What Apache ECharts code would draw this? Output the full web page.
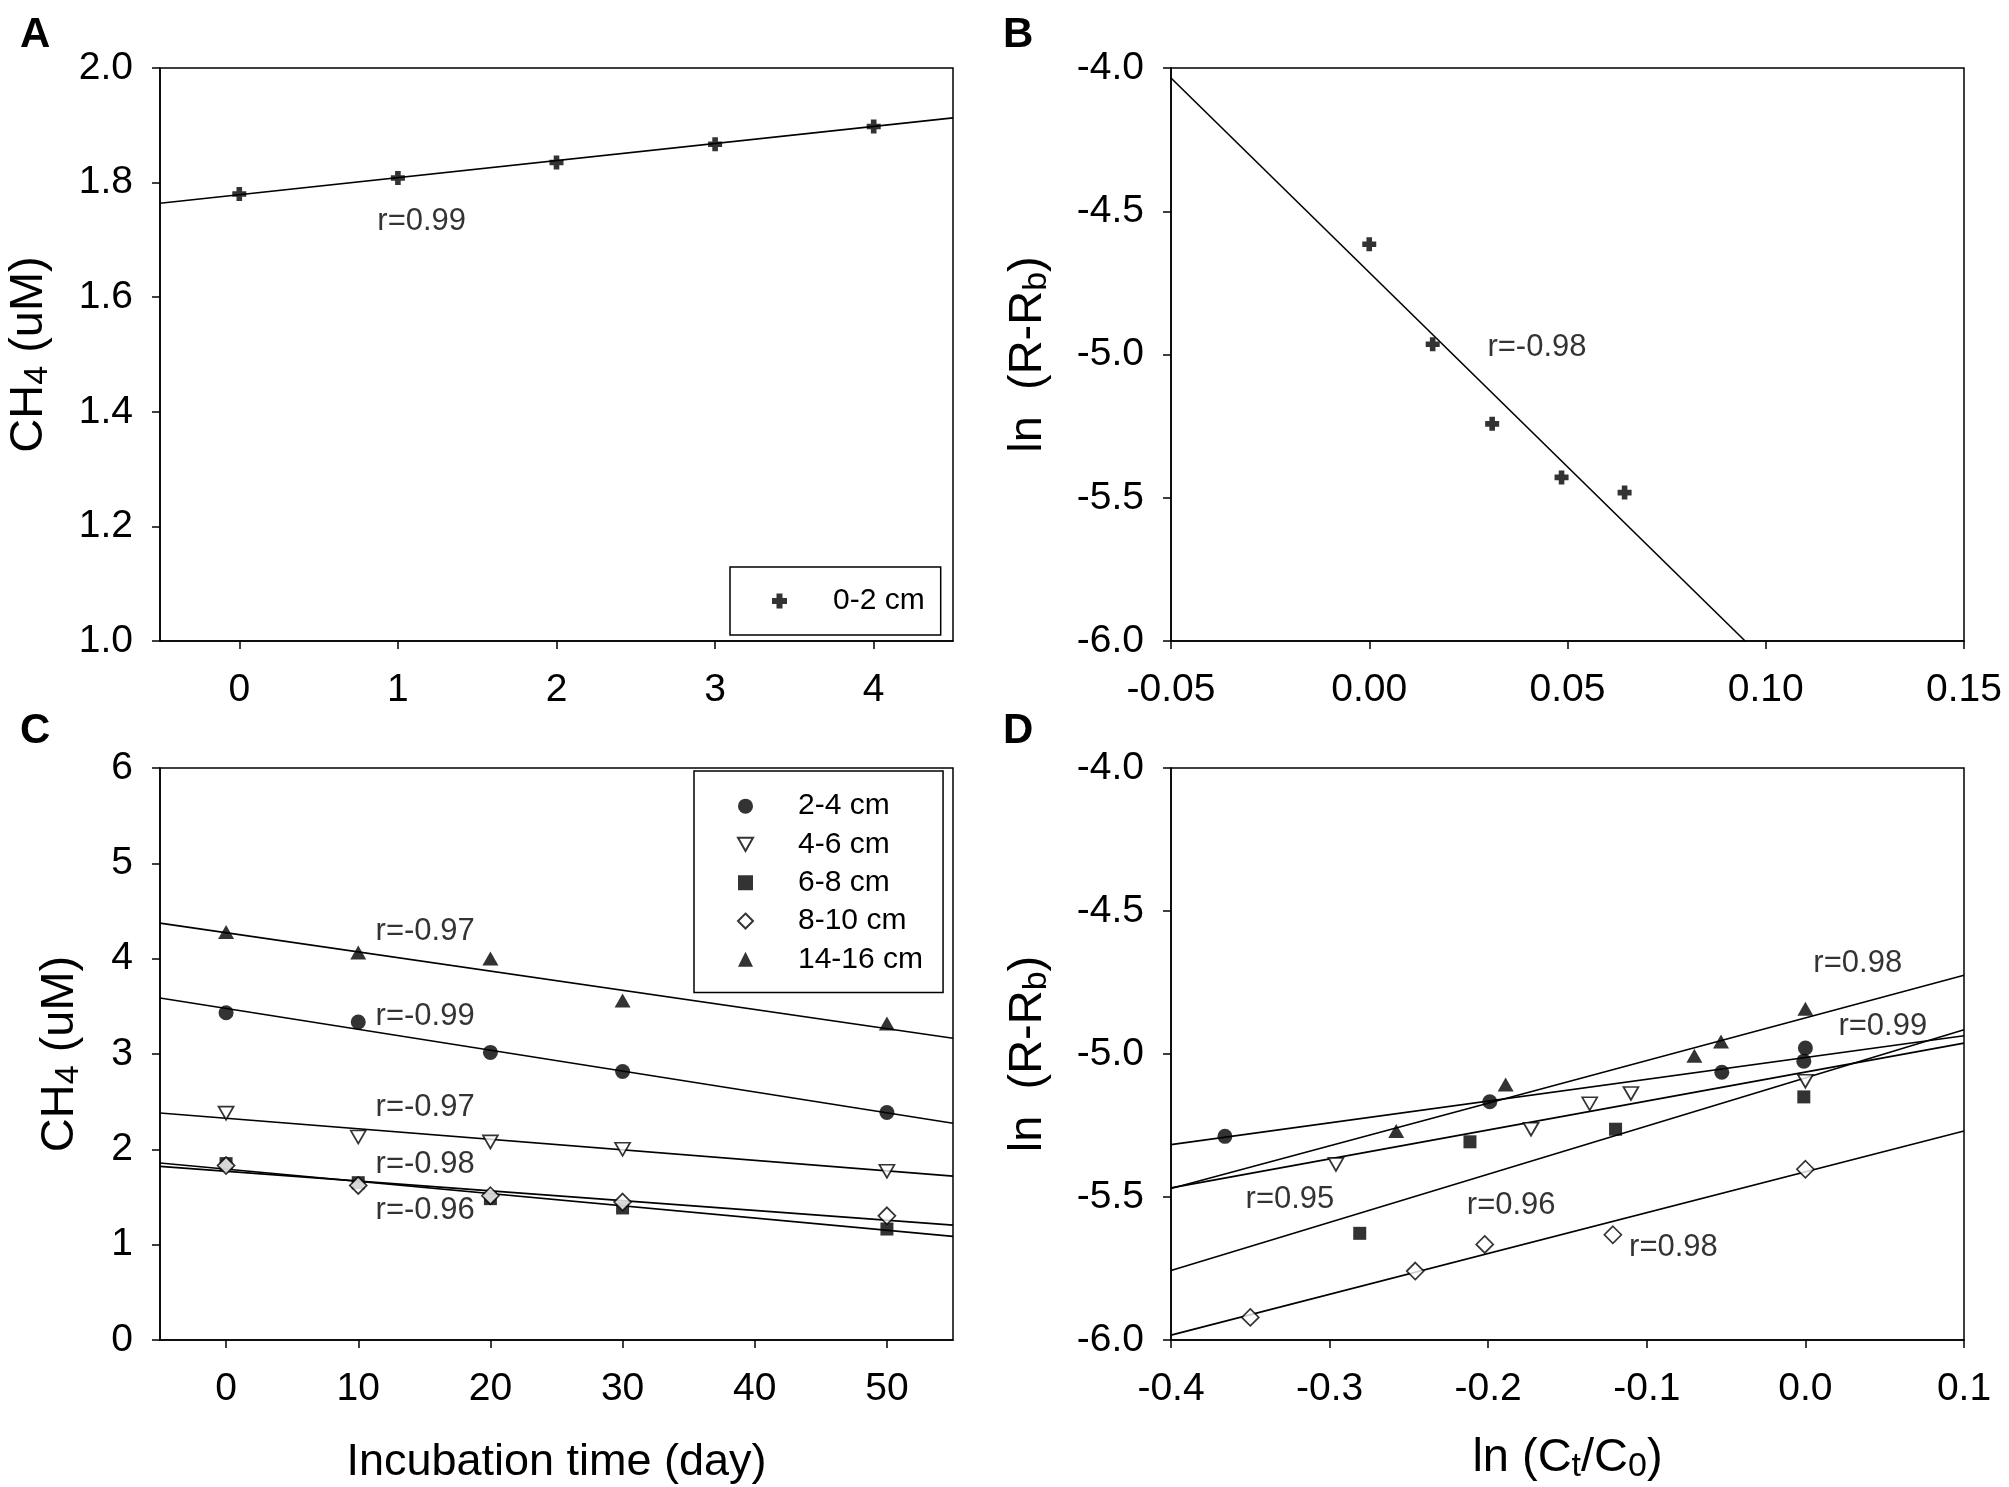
<!DOCTYPE html>
<html>
<head>
<meta charset="utf-8">
<title>CH4 incubation</title>
<script src="https://cdn.jsdelivr.net/npm/echarts@6/dist/echarts.min.js"></script>
<style>
html, body { margin: 0; padding: 0; background: #fff; }
#chart { width: 2009px; height: 1487px; }
</style>
</head>
<body>
<div id="chart"></div>
<script>
var FONT = '"Liberation Sans", Arial, sans-serif';

// A: 0-2 cm, CH4 vs incubation time
var dayA = [0, 1, 2, 3, 4];
var ch4A = [1.780, 1.808, 1.835, 1.867, 1.898];
var fitA = [[-0.5, 1.764], [4.5, 1.913]];
var ticksA = [0, 1, 2, 3, 4];
var noteA = [[1.15, 1.733, 'r=0.99']];

// B: ln(R-Rb) vs ln(Ct/C0), 0-2 cm
var lnCB = [0.000, 0.016, 0.031, 0.0485, 0.0644];
var lnRB = [-4.615, -4.964, -5.242, -5.429, -5.482];
var fitB = [[-0.05, -4.035], [0.0948, -6.0]];
var noteB = [[0.0423, -4.977, 'r=-0.98']];

// C: CH4 vs incubation time, deeper layers
var layers = ['2-4 cm', '4-6 cm', '6-8 cm', '8-10 cm', '14-16 cm'];
var dayC = [0, 10, 20, 30, 50];
var ch4C_24 = [3.433, 3.336, 3.017, 2.817, 2.386];
var ch4C_46 = [2.38, 2.129, 2.078, 2.001, 1.770];
var ch4C_68 = [1.85, 1.65, 1.483, 1.385, 1.164];
var ch4C_810 = [1.83, 1.621, 1.513, 1.447, 1.303];
var ch4C_1416 = [4.280, 4.065, 4.003, 3.562, 3.320];
var fitC_24 = [[-5, 3.587], [55, 2.273]];
var fitC_46 = [[-5, 2.381], [55, 1.719]];
var fitC_68 = [[-5, 1.857], [55, 1.087]];
var fitC_810 = [[-5, 1.821], [55, 1.205]];
var fitC_1416 = [[-5, 4.373], [55, 3.166]];
var ticksC = [0, 10, 20, 30, 40, 50];
var noteC = [[15.06, 4.285, 'r=-0.97'], [15.06, 3.397, 'r=-0.99'], [15.06, 2.437, 'r=-0.97'],
             [15.06, 1.842, 'r=-0.98'], [15.06, 1.359, 'r=-0.96']];

// D: ln(R-Rb) vs ln(Ct/C0), deeper layers
var xD_24 = [-0.366, -0.199, -0.0527, 0.0, -0.001];
var yD_24 = [-5.288, -5.167, -5.064, -4.979, -5.025];
var xD_46 = [-0.296, -0.173, -0.136, -0.110, 0.0];
var yD_46 = [-5.386, -5.263, -5.174, -5.138, -5.095];
var xD_68 = [-0.281, -0.2115, -0.1197, -0.001];
var yD_68 = [-5.627, -5.307, -5.263, -5.150];
var xD_810 = [-0.350, -0.246, -0.2022, -0.1214, 0.0];
var yD_810 = [-5.921, -5.759, -5.666, -5.632, -5.403];
var xD_1416 = [-0.258, -0.189, -0.070, -0.0532, 0.0];
var yD_1416 = [-5.269, -5.107, -5.006, -4.956, -4.842];
var fitD_24 = [[-0.4, -5.317], [0.1, -4.936]];
var fitD_46 = [[-0.4, -5.468], [0.1, -4.962]];
var fitD_68 = [[-0.4, -5.757], [0.1, -4.915]];
var fitD_810 = [[-0.4, -5.983], [0.1, -5.269]];
var fitD_1416 = [[-0.4, -5.470], [0.1, -4.725]];
var noteD = [[0.033, -4.683, 'r=0.98'], [0.0488, -4.905, 'r=0.99'], [-0.325, -5.509, 'r=0.95'],
             [-0.1855, -5.531, 'r=0.96'], [-0.0832, -5.675, 'r=0.98']];

var PLUS = 'path://M30,0H70V30H100V70H70V100H30V70H0V30H30Z';
var DOWN = 'path://M0,0L100,0L50,88Z';

function pts(xs, ys) {
    return xs.map(function (x, i) { return [x, ys[i]]; });
}
function fmt(d) {
    return function (v) { return (Math.abs(v) < 1e-9 ? 0 : v).toFixed(d); };
}

// marker series
function marks(name, idx, xs, ys, symbol, size, open) {
    return {
        name: name, type: 'scatter', xAxisIndex: idx, yAxisIndex: idx,
        data: pts(xs, ys), symbol: symbol, symbolSize: size, z: 5,
        itemStyle: open ? { color: '#fff', borderColor: '#000', borderWidth: 1.7 } : { color: '#000', borderWidth: 0 },
        emphasis: { disabled: true }
    };
}
// regression line
function fit(idx, data) {
    return {
        type: 'line', xAxisIndex: idx, yAxisIndex: idx, data: data, symbol: 'none',
        lineStyle: { color: '#000', width: 1.6 }, z: 3, silent: true
    };
}
// r= labels
function notes(idx, list) {
    return {
        type: 'scatter', xAxisIndex: idx, yAxisIndex: idx, symbolSize: 0, z: 6, silent: true,
        data: list.map(function (a) { return { value: [a[0], a[1]], name: a[2] }; }),
        label: { show: true, position: 'inside', formatter: '{b}', fontSize: 31, color: '#000', fontFamily: FONT }
    };
}

var nameRich = {
    n: { fontSize: 47, fontFamily: FONT, color: '#000' },
    s: { fontSize: 34, fontFamily: FONT, color: '#000', padding: [18, 0, 0, 0] }
};

function xAxis(idx, min, max, opts) {
    var a = {
        type: 'value', gridIndex: idx, min: min, max: max,
        axisLine: { onZero: false, lineStyle: { color: '#000', width: 1.5 } },
        axisTick: { inside: false, length: 8, lineStyle: { color: '#000', width: 1.5 } },
        axisLabel: { fontSize: 39, color: '#000', fontFamily: FONT, margin: 30 },
        splitLine: { show: false }
    };
    return Object.assign(a, opts);
}
function yAxis(idx, min, max, interval, digits, name, gap) {
    return {
        type: 'value', gridIndex: idx, min: min, max: max, interval: interval,
        axisLine: { onZero: false, lineStyle: { color: '#000', width: 1.5 } },
        axisTick: { inside: false, length: 8, lineStyle: { color: '#000', width: 1.5 } },
        axisLabel: { fontSize: 39, color: '#000', fontFamily: FONT, margin: 27, formatter: fmt(digits) },
        splitLine: { show: false },
        name: name, nameLocation: 'middle', nameGap: gap, nameRotate: 90,
        nameTextStyle: { rich: nameRich, fontSize: 47, fontFamily: FONT, color: '#000' }
    };
}

var gridStyle = { show: true, borderColor: '#000', borderWidth: 1.5, backgroundColor: 'transparent' };
var ch4Name = '{n|CH}{s|4}{n| (uM)}';
var lnRName = '{n|ln  (R-R}{s|b}{n|)}';

var option = {
    animation: false,
    backgroundColor: '#fff',
    textStyle: { fontFamily: FONT },
    grid: [
        Object.assign({ left: 160, top: 68, width: 793, height: 573 }, gridStyle),
        Object.assign({ left: 1171, top: 68, width: 793, height: 573 }, gridStyle),
        Object.assign({ left: 160, top: 768, width: 793, height: 572 }, gridStyle),
        Object.assign({ left: 1171, top: 768, width: 793, height: 572 }, gridStyle)
    ],
    xAxis: [
        xAxis(0, -0.5, 4.5, {
            axisLabel: { fontSize: 39, color: '#000', fontFamily: FONT, margin: 30, customValues: ticksA },
            axisTick: { length: 8, lineStyle: { color: '#000', width: 1.5 }, customValues: ticksA }
        }),
        xAxis(1, -0.05, 0.15, {
            interval: 0.05,
            axisLabel: { fontSize: 39, color: '#000', fontFamily: FONT, margin: 30, formatter: fmt(2) }
        }),
        xAxis(2, -5, 55, {
            axisLabel: { fontSize: 39, color: '#000', fontFamily: FONT, margin: 30, customValues: ticksC },
            axisTick: { length: 8, lineStyle: { color: '#000', width: 1.5 }, customValues: ticksC },
            name: 'Incubation time (day)', nameLocation: 'middle', nameGap: 100,
            nameTextStyle: { fontSize: 45, fontFamily: FONT, color: '#000' }
        }),
        xAxis(3, -0.4, 0.1, {
            interval: 0.1,
            axisLabel: { fontSize: 39, color: '#000', fontFamily: FONT, margin: 30, formatter: fmt(1) },
            name: '{n|ln (C}{s|t}{n|/C}{s|0}{n|)}', nameLocation: 'middle', nameGap: 92,
            nameTextStyle: { rich: nameRich, fontSize: 47, fontFamily: FONT, color: '#000' }
        })
    ],
    yAxis: [
        yAxis(0, 1.0, 2.0, 0.2, 1, ch4Name, 105),
        yAxis(1, -6, -4, 0.5, 1, lnRName, 117),
        yAxis(2, 0, 6, 1, 0, ch4Name, 74),
        yAxis(3, -6, -4, 0.5, 1, lnRName, 117)
    ],
    legend: [
        {
            data: ['0-2 cm'], orient: 'vertical', left: 730, top: 567,
            padding: [15, 16, 15, 42], itemWidth: 15, itemHeight: 15, itemGap: 0,
            borderColor: '#000', borderWidth: 1.5, borderRadius: 0, backgroundColor: '#fff',
            textStyle: { fontSize: 30, lineHeight: 38, color: '#000', fontFamily: FONT, padding: [0, 0, 0, 41] },
            selectedMode: false
        },
        {
            data: layers, orient: 'vertical', left: 694, top: 771, align: 'left',
            padding: [16, 20, 14, 43], itemWidth: 15, itemHeight: 15, itemGap: 0,
            borderColor: '#000', borderWidth: 1.5, borderRadius: 0, backgroundColor: '#fff',
            textStyle: { fontSize: 30, lineHeight: 38.3, color: '#000', fontFamily: FONT, padding: [0, 0, 0, 40] },
            selectedMode: false
        }
    ],
    graphic: [
        { type: 'text', left: 20, top: 14, style: { text: 'A', font: 'bold 42px ' + FONT, fill: '#000' } },
        { type: 'text', left: 1003, top: 14, style: { text: 'B', font: 'bold 42px ' + FONT, fill: '#000' } },
        { type: 'text', left: 20, top: 710, style: { text: 'C', font: 'bold 42px ' + FONT, fill: '#000' } },
        { type: 'text', left: 1003, top: 710, style: { text: 'D', font: 'bold 42px ' + FONT, fill: '#000' } }
    ],
    series: [
        fit(0, fitA),
        marks('0-2 cm', 0, dayA, ch4A, PLUS, 14, false),
        notes(0, noteA),

        fit(1, fitB),
        marks('0-2 cm B', 1, lnCB, lnRB, PLUS, 14, false),
        notes(1, noteB),

        fit(2, fitC_24), fit(2, fitC_46), fit(2, fitC_68), fit(2, fitC_810), fit(2, fitC_1416),
        marks(layers[0], 2, dayC, ch4C_24, 'circle', 15, false),
        marks(layers[1], 2, dayC, ch4C_46, DOWN, [15, 13], true),
        marks(layers[2], 2, dayC, ch4C_68, 'rect', 13, false),
        marks(layers[3], 2, dayC, ch4C_810, 'diamond', [17, 17], true),
        marks(layers[4], 2, dayC, ch4C_1416, 'triangle', [16, 14], false),
        notes(2, noteC),

        fit(3, fitD_24), fit(3, fitD_46), fit(3, fitD_68), fit(3, fitD_810), fit(3, fitD_1416),
        marks(layers[0], 3, xD_24, yD_24, 'circle', 15, false),
        marks(layers[1], 3, xD_46, yD_46, DOWN, [15, 13], true),
        marks(layers[2], 3, xD_68, yD_68, 'rect', 13, false),
        marks(layers[3], 3, xD_810, yD_810, 'diamond', [17, 17], true),
        marks(layers[4], 3, xD_1416, yD_1416, 'triangle', [16, 14], false),
        notes(3, noteD)
    ]
};

var chart = echarts.init(document.getElementById('chart'), null, { renderer: 'canvas' });
chart.setOption(option);
</script>
</body>
</html>
